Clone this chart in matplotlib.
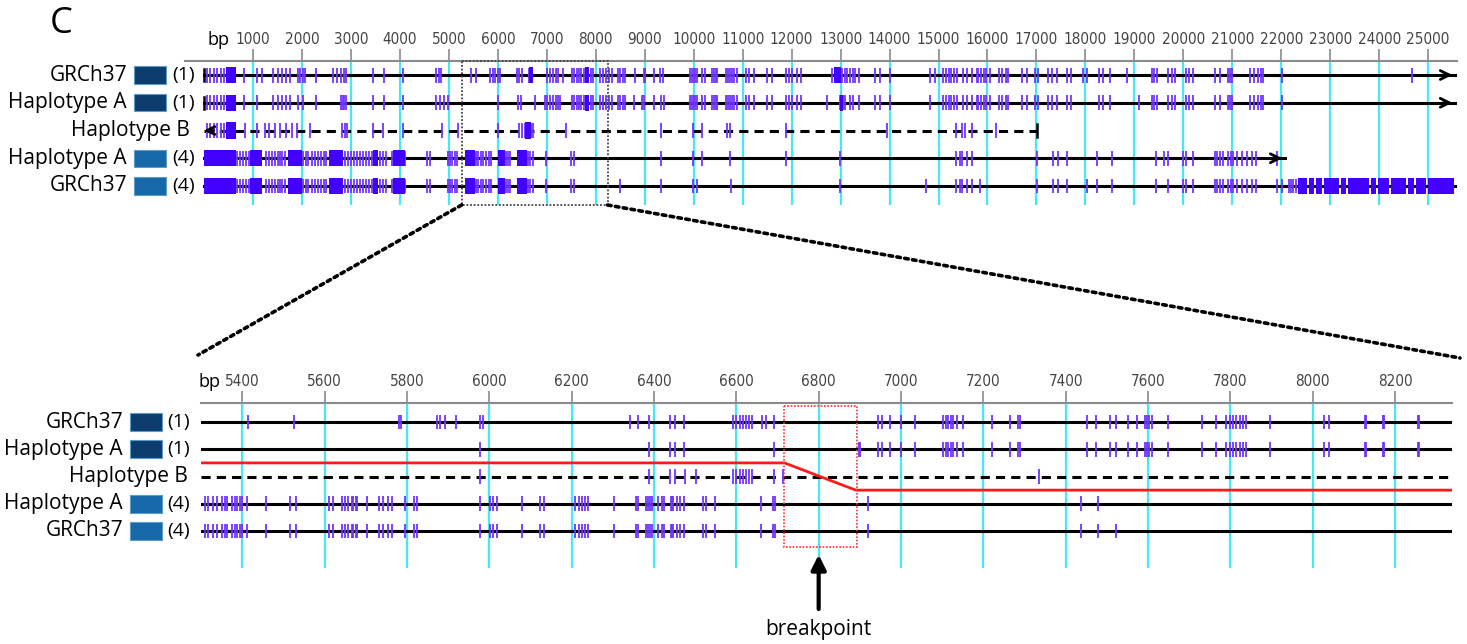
import numpy as np
import matplotlib
matplotlib.use('Agg')
import matplotlib.pyplot as plt
from matplotlib.patches import Rectangle, ConnectionPatch
from matplotlib.transforms import blended_transform_factory

W, H = 1467, 644

# row labels
names = ['GRCh37', 'Haplotype A', 'Haplotype B', 'Haplotype A', 'GRCh37']
groups = ['(1)', '(1)', '', '(4)', '(4)']
group_colors = ['#0d3c6e', '#0d3c6e', None, '#1768a8', '#1768a8']

# overview panel (bp)
top_ticks = list(range(1000, 26000, 1000))
top_ends = [25550, 25550, 17010, 22080, 25550]
zoom_window = (5260, 8240)

top_var0 = [60, 130, 200, 270, 340, 410, 820, 1090, 1180, 1415, 1500, 1590, 1675, 1760, 1925, 1960, 2030, 2065,
            2290, 2640, 2720, 2790, 2860, 2900, 3460, 3680, 4070, 4740, 4790, 4835, 5450, 5555, 5840, 5910, 5945,
            6010, 6045, 6385, 6440, 6490, 6645, 6690, 7000, 7065, 7120, 7190, 7235, 7325, 7510, 7560, 7610, 7660,
            7700, 7750, 7800, 7850, 7900, 7950, 8090, 8155, 8210, 8260, 8325, 8460, 8500, 8550, 8600, 8800, 8975,
            9005, 9180, 9315, 9380, 9925, 9960, 10000, 10030, 10060, 10165, 10235, 10370, 10410, 10450, 10485,
            10655, 10700, 10740, 10780, 10830, 10880, 11065, 11120, 11240, 11490, 11600, 11890, 11950, 12005,
            12105, 12195, 12820, 12880, 12930, 12980, 13030, 13080, 13130, 13195, 13250, 13300, 13385, 13705,
            13805, 14010, 14830, 14930, 15100, 15160, 15210, 15260, 15320, 15375, 15510, 15580, 15680, 15780,
            15815, 15870, 15920, 15980, 16055, 16245, 16290, 16380, 16410, 16700, 16800, 16970, 17040, 17245,
            17315, 17415, 17630, 17710, 17960, 18030, 18285, 18355, 18505, 18860, 19355, 19405, 19455, 19695,
            19765, 19830, 20055, 20125, 20205, 20650, 20740, 20920, 20960, 20990, 21365, 21445, 21535, 21580,
            21625, 22010, 24665]
top_var1 = [60, 130, 200, 270, 340, 410, 820, 1090, 1415, 1500, 1590, 1675, 1760, 1925, 2030, 2290, 2790, 2830,
            2860, 2900, 3460, 3680, 4070, 4740, 4820, 4900, 4980, 6010, 6410, 6480, 6750, 6965, 7010, 7060, 7120,
            7190, 7235, 7270, 7510, 7560, 7610, 7660, 7700, 7750, 7800, 7850, 7900, 7950, 8090, 8155, 8210, 8260,
            8325, 8460, 8500, 8550, 8600, 8780, 8950, 8990, 9180, 9335, 9400, 9925, 9960, 10000, 10030, 10060,
            10165, 10235, 10370, 10410, 10450, 10485, 10655, 10700, 10740, 10780, 10830, 10880, 11065, 11120,
            11240, 11490, 11600, 11890, 11950, 12005, 12105, 12195, 12715, 12990, 13040, 13090, 13195, 13250,
            13385, 13705, 13805, 14010, 14830, 15100, 15160, 15210, 15260, 15320, 15375, 15510, 15580, 15680,
            15780, 15815, 15870, 15920, 15980, 16055, 16245, 16290, 16380, 16410, 16700, 16800, 16970, 17040,
            17245, 17315, 17415, 17630, 17710, 18285, 18355, 18505, 19100, 19355, 19405, 19455, 19695, 19765,
            19830, 20055, 20125, 20205, 20650, 20740, 20920, 20960, 20990, 21365, 21445, 21535, 21580, 21625,
            22010]
top_var2 = [60, 130, 200, 270, 340, 410, 837, 1075, 1240, 1330, 1450, 1550, 1675, 1790, 1890, 2165, 2810, 2880,
            2915, 3460, 3660, 4070, 4855, 5195, 6010, 6440, 6500, 6560, 6620, 6680, 6725, 7395, 9335, 9995, 10165,
            10690, 10745, 11890, 13945, 15360, 15475, 15545, 15680, 16170]
top_var3 = [680, 740, 800, 860, 920, 1260, 1320, 1380, 1440, 1500, 1550, 1600, 1650, 2030, 2085, 2130, 2200,
            2260, 2320, 2380, 2440, 2500, 2880, 2940, 3000, 3060, 3120, 3180, 3240, 3300, 3360, 3420, 3480, 3540,
            3600, 3660, 3720, 3840, 3880, 3920, 3960, 4000, 4060, 4100, 4550, 4615, 4990, 5030, 5070, 5120, 5160,
            5560, 5600, 5650, 5700, 5760, 5820, 5870, 6170, 6210, 6250, 6620, 6660, 6725, 6985, 7490, 7545, 9335,
            9995, 10165, 10745, 11890, 12990, 15360, 15430, 15475, 15575, 15680, 17010, 17335, 17450, 17630, 18235,
            18540, 19445, 19610, 19695, 19990, 20055, 20205, 20650, 20680, 20740, 20820, 20920, 20970, 21025,
            21105, 21195, 21295, 21400, 21485, 21910]
top_var4 = [680, 740, 800, 860, 920, 1260, 1320, 1380, 1440, 1500, 1550, 1600, 1650, 2030, 2085, 2130, 2200,
            2260, 2320, 2380, 2440, 2500, 2880, 2940, 3000, 3060, 3120, 3180, 3240, 3300, 3360, 3420, 3480, 3540,
            3600, 3660, 3720, 3840, 3880, 3920, 3960, 4000, 4060, 4100, 4550, 4615, 4990, 5030, 5070, 5120, 5160,
            5560, 5600, 5650, 5700, 5760, 5820, 5870, 6170, 6210, 6250, 6620, 6660, 6725, 6985, 7490, 7545, 8495,
            9335, 9995, 10065, 10760, 12990, 14745, 15360, 15430, 15475, 15575, 15680, 15850, 17010, 17335, 17450,
            17630, 18030, 18235, 18540, 19445, 19695, 19990, 20055, 20205, 20650, 20680, 20740, 20820, 20920,
            20970, 21025, 21105, 21195, 21295, 21400, 21485, 21910, 22010, 22150, 22200, 22250, 22300]
top_vars = [top_var0, top_var1, top_var2, top_var3, top_var4]

# solid clusters (start, length) in bp
top_blk0 = [(450, 200), (6630, 90), (12870, 130), (7780, 80)]
top_blk1 = [(450, 200), (12990, 60), (7780, 80)]
top_blk2 = [(450, 200), (6560, 120)]
top_blk3 = [(0, 650), (940, 240), (1715, 285), (2560, 285), (3450, 100), (3860, 240), (5330, 205),
            (6010, 140), (6385, 205)]
top_blk4 = [(0, 650), (940, 240), (1715, 285), (2560, 285), (3450, 100), (3860, 240), (5330, 205),
            (6010, 140), (6385, 205), (22350, 180), (22570, 100), (22710, 130), (22880, 300), (23220, 100),
            (23360, 430), (23830, 100), (23970, 240), (24250, 300), (24590, 130), (24760, 200), (25000, 520)]
top_blks = [top_blk0, top_blk1, top_blk2, top_blk3, top_blk4]

# detail panel (bp)
bot_ticks = list(range(5400, 8400, 200))
bot_range = (5300, 8338)
bot_var0 = [5413, 5526, 5782, 5786, 5873, 5881, 5893, 5920, 5978, 5985, 6342, 6362, 6389, 6439, 6451, 6473,
            6593, 6600, 6609, 6617, 6624, 6630, 6638, 6662, 6672, 6692, 6945, 6953, 6972, 6999, 7034, 7103,
            7109, 7115, 7121, 7127, 7135, 7150, 7220, 7265, 7285, 7288, 7451, 7474, 7508, 7522, 7550, 7573,
            7593, 7598, 7603, 7609, 7648, 7732, 7765, 7790, 7798, 7806, 7814, 7822, 7830, 7838, 7895, 8027,
            8040, 8127, 8129, 8171, 8174, 8256, 8259]
bot_var1 = [5978, 6389, 6439, 6451, 6473, 6692, 6899, 6901, 6945, 6953, 6972, 6999, 7034, 7103, 7109, 7115,
            7121, 7127, 7135, 7150, 7220, 7265, 7285, 7288, 7451, 7474, 7508, 7522, 7550, 7573, 7593, 7598,
            7603, 7609, 7648, 7732, 7765, 7790, 7798, 7806, 7814, 7822, 7830, 7838, 7895, 8027, 8040, 8127,
            8129, 8171, 8174, 8256, 8259]
bot_var2 = [5978, 6389, 6439, 6451, 6476, 6502, 6593, 6600, 6609, 6617, 6624, 6630, 6638, 6692, 6713, 7334]
bot_var3 = [5310, 5318, 5330, 5339, 5351, 5359, 5363, 5375, 5383, 5387, 5395, 5399, 5411, 5458, 5515, 5531,
            5612, 5620, 5642, 5650, 5658, 5666, 5670, 5677, 5680, 5703, 5733, 5742, 5755, 5763, 5796, 5818,
            5824, 5978, 6002, 6010, 6018, 6079, 6124, 6132, 6209, 6217, 6225, 6233, 6241, 6303, 6357, 6362,
            6381, 6385, 6390, 6395, 6411, 6419, 6425, 6441, 6444, 6447, 6455, 6464, 6473, 6519, 6527, 6549,
            6660, 6690, 6694, 6919, 7437, 7478]
bot_var4 = bot_var3 + [7522]
bot_vars = [bot_var0, bot_var1, bot_var2, bot_var3, bot_var4]

# recombination path and breakpoint window
red_x = [5300, 6717, 6890, 8338]
red_y = [1.5, 1.5, 2.5, 2.5]
break_window = (6717, 6893)
break_pos = 6800

VAR = '#7035ff'
BLK = '#4200ff'
CYAN = '#45e8f5'
AX = '#8a8a8a'
txtfont = ['Open Sans', 'DejaVu Sans']

fig = plt.figure(figsize=(W / 100, H / 100), dpi=100)


def setup(ax, ticks, fs):
    for s in ['left', 'right', 'bottom']:
        ax.spines[s].set_visible(False)
    ax.spines['top'].set_color(AX)
    ax.spines['top'].set_linewidth(1.5)
    ax.xaxis.tick_top()
    ax.set_xticks(ticks)
    ax.set_xticklabels([str(t) for t in ticks], family='DejaVu Sans', fontstretch='condensed')
    ax.tick_params(axis='x', direction='out', length=9, width=1.2, color=AX, pad=1,
                   labelsize=fs, labelcolor='#444444')
    ax.set_yticks([])
    for t in ticks:
        ax.axvline(t, color=CYAN, lw=1.6, zorder=1)


def labels(ax, xname, xb, xsq, xgrp, hsq):
    tr = blended_transform_factory(fig.transFigure, ax.transData)
    for i in range(5):
        if groups[i]:
            ax.text(xname / W, i, names[i], transform=tr, ha='right', va='center', fontsize=15,
                    family=txtfont)
            ax.add_patch(Rectangle((xsq / W, i - hsq / 2), 32 / W, hsq, transform=tr, clip_on=False,
                                   facecolor=group_colors[i], edgecolor='#5a9ccc', lw=0.8))
            ax.text(xgrp / W, i, groups[i], transform=tr, ha='left', va='center', fontsize=14,
                    family=txtfont)
        else:
            ax.text(xb / W, i, names[i], transform=tr, ha='right', va='center', fontsize=15,
                    family=txtfont)


# ---- overview ----
ax1 = fig.add_axes([185 / W, 1 - 205 / H, (1457 - 185) / W, (205 - 61) / H])
ax1.set_xlim(-390, 25590)
ax1.set_ylim(4.685, -0.505)
setup(ax1, top_ticks, 11)
for i in range(5):
    ls = (0, (3, 2)) if i == 2 else '-'
    ax1.plot([0, top_ends[i]], [i, i], color='black', lw=2.2, ls=ls, zorder=2)
    ax1.vlines(top_vars[i], i - 0.27, i + 0.27, color=VAR, lw=1.3, zorder=3)
    ax1.broken_barh(top_blks[i], (i - 0.29, 0.58), facecolor=BLK, zorder=3)
# line ends
ax1.plot([0, 0], [-0.22, 0.22], color='black', lw=1.8, zorder=4)
ax1.plot([0, 0], [0.78, 1.22], color='black', lw=1.8, zorder=4)
ax1.plot([top_ends[2]] * 2, [1.78, 2.22], color='black', lw=1.8, zorder=4)
for i in [0, 1, 3]:
    ax1.annotate('', xy=(top_ends[i], i), xytext=(top_ends[i] - 300, i),
                 arrowprops=dict(arrowstyle='->', lw=2, color='black', mutation_scale=16))
ax1.annotate('', xy=(-60, 2), xytext=(250, 2),
             arrowprops=dict(arrowstyle='->', lw=2, color='black', mutation_scale=14))
ax1.add_patch(Rectangle((zoom_window[0], -0.505), zoom_window[1] - zoom_window[0], 5.19,
                        fill=False, ls=(0, (1, 1)), lw=1.3, edgecolor='#444444', zorder=5, clip_on=False))
labels(ax1, 127, 190, 134, 172, 0.62)
fig.text(219 / W, 1 - 40 / H, 'bp', ha='center', va='center', fontsize=13, family=txtfont)

# ---- detail ----
ax2 = fig.add_axes([201 / W, 1 - 568 / H, (1452 - 201) / W, (568 - 403) / H])
ax2.set_xlim(*bot_range)
ax2.set_ylim(5.36, -0.70)
setup(ax2, bot_ticks, 11)
for i in range(5):
    ls = (0, (3, 2)) if i == 2 else '-'
    ax2.plot(bot_range, [i, i], color='black', lw=2.2, ls=ls, zorder=2)
    ax2.vlines(bot_vars[i], i - 0.27, i + 0.27, color=VAR, lw=1.3, zorder=3)
ax2.plot(red_x, red_y, color='#ff1a1a', lw=2, zorder=4)
ax2.add_patch(Rectangle((break_window[0], -0.59), break_window[1] - break_window[0], 5.17,
                        fill=False, ls=(0, (1, 1)), lw=1.2, edgecolor='#ff3030', zorder=5))
ax2.annotate('', xy=(break_pos, 4.77), xytext=(break_pos, 6.97), annotation_clip=False,
             arrowprops=dict(arrowstyle='-|>', lw=3, color='black', mutation_scale=22))
ax2.text(break_pos, 7.63, 'breakpoint', ha='center', va='center', fontsize=15, family=txtfont,
         clip_on=False)
labels(ax2, 123, 188, 130, 167, 0.66)
fig.text(210 / W, 1 - 382 / H, 'bp', ha='center', va='center', fontsize=13, family=txtfont)

# zoom guides
for xa, xb in [(zoom_window[0], (198, 355)), (zoom_window[1], (1460, 358))]:
    cp = ConnectionPatch(xyA=(xa, 4.685), coordsA=ax1.transData,
                         xyB=(xb[0] / W, 1 - xb[1] / H), coordsB=fig.transFigure,
                         ls=(0, (1, 1.2)), lw=2.6, color='black')
    fig.add_artist(cp)

fig.text(50 / W, 1 - 24 / H, 'C', ha='left', va='center', fontsize=26, family=txtfont)

fig.savefig('out.png', dpi=100)
